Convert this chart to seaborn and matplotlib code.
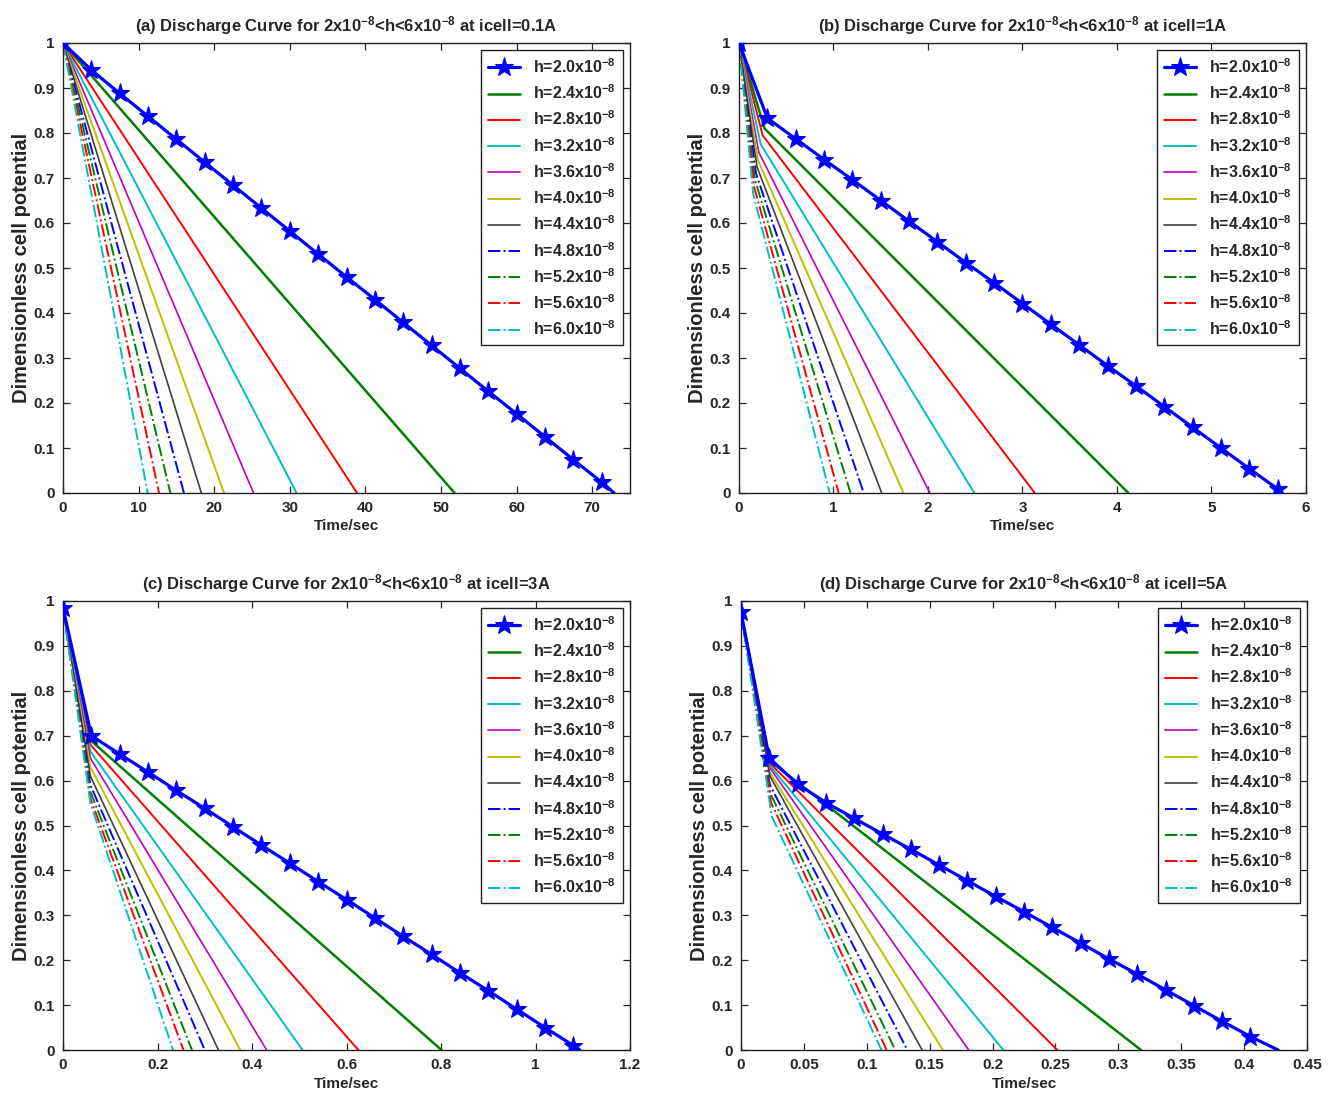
import matplotlib
matplotlib.use("Agg")
import matplotlib.pyplot as plt
import seaborn as sns

# legend values of h (x10^-8)
h_values = ["2.0", "2.4", "2.8", "3.2", "3.6", "4.0", "4.4", "4.8", "5.2", "5.6", "6.0"]
icell = ["0.1A", "1A", "3A", "5A"]
panel_tags = ["(a)", "(b)", "(c)", "(d)"]

# (a) icell = 0.1 A  -- h=2.0 curve (star points), then end times of h=2.4 ... 6.0
a_star_t = [0, 3.75, 7.5, 11.25, 15, 18.75, 22.5, 26.25, 30, 33.75, 37.5, 41.25,
            45, 48.75, 52.5, 56.25, 60, 63.75, 67.5, 71.25, 72.9]
a_star_v = [1.0, 0.94, 0.888, 0.837, 0.786, 0.735, 0.684, 0.633, 0.582, 0.531, 0.48,
            0.43, 0.379, 0.328, 0.277, 0.226, 0.176, 0.125, 0.074, 0.024, 0.0]
a_start = 1.0
a_knee_t = None
a_knee_v = None
a_end = [51.8, 38.9, 30.9, 25.2, 21.3, 18.3, 16.0, 14.2, 12.7, 11.2]

# (b) icell = 1 A
b_star_t = [0, 0.3, 0.6, 0.9, 1.2, 1.5, 1.8, 2.1, 2.4, 2.7, 3.0, 3.3, 3.6, 3.9,
            4.2, 4.5, 4.8, 5.1, 5.4, 5.7, 5.72]
b_star_v = [1.0, 0.833, 0.787, 0.741, 0.696, 0.650, 0.604, 0.558, 0.512, 0.467, 0.421,
            0.375, 0.329, 0.283, 0.238, 0.192, 0.146, 0.100, 0.054, 0.009, 0.0]
b_start = 1.0
b_knee_t = [0.27, 0.25, 0.23, 0.21, 0.20, 0.19, 0.18, 0.17, 0.16, 0.15]
b_knee_v = [0.81, 0.795, 0.775, 0.757, 0.74, 0.725, 0.71, 0.695, 0.68, 0.665]
b_end = [4.12, 3.13, 2.49, 2.02, 1.74, 1.51, 1.32, 1.18, 1.055, 0.96]

# (c) icell = 3 A
c_star_t = [0, 0.06, 0.12, 0.18, 0.24, 0.30, 0.36, 0.42, 0.48, 0.54, 0.60, 0.66,
            0.72, 0.78, 0.84, 0.90, 0.96, 1.02, 1.08, 1.094]
c_star_v = [0.985, 0.700, 0.659, 0.619, 0.578, 0.538, 0.497, 0.456, 0.416, 0.375,
            0.335, 0.294, 0.253, 0.213, 0.172, 0.132, 0.091, 0.050, 0.010, 0.0]
c_start = 0.985
c_knee_t = [0.058, 0.058, 0.058, 0.058, 0.058, 0.058, 0.058, 0.058, 0.058, 0.058]
c_knee_v = [0.69, 0.68, 0.665, 0.65, 0.63, 0.61, 0.59, 0.575, 0.56, 0.55]
c_end = [0.801, 0.625, 0.507, 0.431, 0.375, 0.329, 0.300, 0.273, 0.255, 0.233]

# (d) icell = 5 A
d_star_t = [0, 0.0225, 0.045, 0.0675, 0.09, 0.1125, 0.135, 0.1575, 0.18, 0.2025,
            0.225, 0.2475, 0.27, 0.2925, 0.315, 0.3375, 0.36, 0.3825, 0.405, 0.427]
d_star_v = [0.975, 0.650, 0.592, 0.551, 0.516, 0.481, 0.447, 0.412, 0.377, 0.342,
            0.308, 0.273, 0.238, 0.203, 0.169, 0.134, 0.099, 0.064, 0.030, 0.0]
d_start = 0.975
d_knee_t = [0.0225, 0.0225, 0.0225, 0.0225, 0.0225, 0.023, 0.023, 0.0235, 0.024, 0.0245]
d_knee_v = [0.645, 0.64, 0.635, 0.63, 0.62, 0.61, 0.59, 0.57, 0.55, 0.52]
d_end = [0.318, 0.2515, 0.2086, 0.181, 0.1605, 0.144, 0.1323, 0.1227, 0.1158, 0.1117]

x_limits = [75, 6, 1.2, 0.45]
x_ticks = [[0, 10, 20, 30, 40, 50, 60, 70],
           [0, 1, 2, 3, 4, 5, 6],
           [0, 0.2, 0.4, 0.6, 0.8, 1, 1.2],
           [0, 0.05, 0.1, 0.15, 0.2, 0.25, 0.3, 0.35, 0.4, 0.45]]
y_ticks = [0, 0.1, 0.2, 0.3, 0.4, 0.5, 0.6, 0.7, 0.8, 0.9, 1]

panels = [
    (a_star_t, a_star_v, a_start, a_knee_t, a_knee_v, a_end),
    (b_star_t, b_star_v, b_start, b_knee_t, b_knee_v, b_end),
    (c_star_t, c_star_v, c_start, c_knee_t, c_knee_v, c_end),
    (d_star_t, d_star_v, d_start, d_knee_t, d_knee_v, d_end),
]

# MATLAB default line colours b g r c m y k
colors = ["#0000ff", "#008000", "#ff0000", "#00bfbf", "#bf00bf", "#bfbf00", "#404040",
          "#0000ff", "#008000", "#ff0000", "#00bfbf"]
styles = ["-"] * 7 + ["-."] * 4
widths = [2.3, 1.8, 1.4, 1.4, 1.2, 1.4, 1.2, 1.4, 1.4, 1.4, 1.4]

sns.set_style("ticks")
plt.rcParams["font.family"] = ["Liberation Sans", "DejaVu Sans"]
plt.rcParams["font.weight"] = "bold"
plt.rcParams["mathtext.fontset"] = "custom"
plt.rcParams["mathtext.bf"] = "Liberation Sans:bold"
plt.rcParams["mathtext.rm"] = "Liberation Sans:bold"
plt.rcParams["mathtext.default"] = "bf"

W, H = 1341, 1095
fig = plt.figure(figsize=(W / 100, H / 100), dpi=100)
fig.patch.set_facecolor("white")

# axes boxes in pixels: left, right, top, bottom
boxes = [(63, 630, 43, 493), (739, 1306, 43, 493),
         (63, 630, 601, 1050), (741, 1307, 601, 1050)]

for i, (star_t, star_v, start, knee_t, knee_v, end) in enumerate(panels):
    l, r, t, b = boxes[i]
    ax = fig.add_axes([l / W, 1 - b / H, (r - l) / W, (b - t) / H])

    # h = 2.0e-8 curve with star markers
    sns.lineplot(x=star_t, y=star_v, ax=ax, color=colors[0], linewidth=widths[0],
                 marker="*", markersize=14, markeredgecolor=colors[0],
                 markerfacecolor=colors[0], markevery=list(range(len(star_t) - 1)),
                 label="h=" + h_values[0] + "x10$^{-8}$", estimator=None, sort=False,
                 zorder=4)

    for k in range(len(end)):
        if knee_t is None:
            xs = [0, end[k]]
            ys = [start, 0]
        else:
            xs = [0, knee_t[k], end[k]]
            ys = [start, knee_v[k], 0]
        sns.lineplot(x=xs, y=ys, ax=ax, color=colors[k + 1], linestyle=styles[k + 1],
                     linewidth=widths[k + 1],
                     label="h=" + h_values[k + 1] + "x10$^{-8}$",
                     estimator=None, sort=False)

    ax.set_xlim(0, x_limits[i])
    ax.set_ylim(0, 1)
    ax.set_xticks(x_ticks[i])
    ax.set_xticklabels(["%g" % v for v in x_ticks[i]])
    ax.set_yticks(y_ticks)
    ax.set_yticklabels(["%g" % v for v in y_ticks])
    ax.tick_params(direction="in", top=True, right=True, length=5, width=0.9,
                   labelsize=11, pad=6)
    for s in ax.spines.values():
        s.set_linewidth(1.0)
        s.set_color("#222222")

    ax.set_title(panel_tags[i] + " Discharge Curve for 2x10$^{-8}$<h<6x10$^{-8}$ at icell="
                 + icell[i], fontsize=12, fontweight="bold", pad=8)
    ax.set_xlabel("Time/sec", fontsize=11, fontweight="bold", labelpad=3)
    ax.set_ylabel("Dimensionless cell potential", fontsize=14.5, fontweight="bold",
                  labelpad=2)

    handles, labels = ax.get_legend_handles_labels()
    leg = ax.legend(handles, labels, loc="upper right", fontsize=11.5, frameon=True,
                    fancybox=False, framealpha=1, edgecolor="#222222",
                    borderaxespad=0.45, labelspacing=0.47, handlelength=2.0,
                    handletextpad=0.8, borderpad=0.45)
    leg.get_frame().set_linewidth(1.0)

fig.savefig("out.png", dpi=100, facecolor="white")
